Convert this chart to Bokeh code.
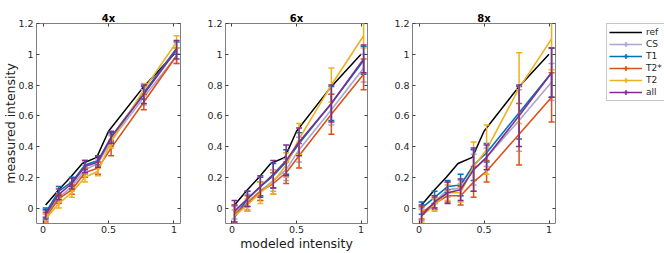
from bokeh.plotting import figure
from bokeh.models import (Range1d, LinearAxis, FixedTicker, PrintfTickFormatter,
                          Legend, LegendItem, ColumnDataSource)
from bokeh.layouts import row
from bokeh.embed import file_html
from bokeh.resources import INLINE

# ---------------- data ----------------
panel_titles = ["4x", "6x", "8x"]
series_names = ["CS", "T1", "T2*", "T2", "all"]
series_colors = ["#ABA5D4", "#0072BD", "#D95319", "#EDB120", "#7E2F8E"]

x_vals = [0.02, 0.12, 0.22, 0.32, 0.42, 0.52, 0.77, 1.02]
ref_x = [0.02, 0.12, 0.21, 0.30, 0.41, 0.50, 0.76, 1.00]
ref_y = [0.02, 0.12, 0.20, 0.29, 0.33, 0.50, 0.78, 1.00]

# 4x
cs_4x = [-0.05, 0.07, 0.14, 0.25, 0.29, 0.44, 0.72, 0.99]
cs_4x_err = [0.03, 0.03, 0.03, 0.03, 0.03, 0.04, 0.05, 0.05]
t1_4x = [-0.03, 0.11, 0.17, 0.28, 0.31, 0.46, 0.75, 1.04]
t1_4x_err = [0.03, 0.03, 0.03, 0.03, 0.03, 0.03, 0.04, 0.04]
t2s_4x = [-0.06, 0.06, 0.12, 0.23, 0.26, 0.39, 0.69, 0.99]
t2s_4x_err = [0.03, 0.03, 0.03, 0.03, 0.04, 0.05, 0.05, 0.05]
t2_4x = [-0.07, 0.03, 0.10, 0.20, 0.24, 0.43, 0.77, 1.08]
t2_4x_err = [0.03, 0.03, 0.03, 0.03, 0.03, 0.04, 0.04, 0.04]
all_4x = [-0.04, 0.09, 0.16, 0.27, 0.30, 0.46, 0.74, 1.03]
all_4x_err = [0.03, 0.035, 0.035, 0.04, 0.035, 0.04, 0.06, 0.06]

# 6x
cs_6x = [-0.03, 0.04, 0.11, 0.18, 0.25, 0.38, 0.64, 0.91]
cs_6x_err = [0.04, 0.05, 0.06, 0.07, 0.07, 0.08, 0.10, 0.09]
t1_6x = [-0.06, 0.06, 0.14, 0.21, 0.30, 0.42, 0.68, 0.96]
t1_6x_err = [0.08, 0.05, 0.06, 0.08, 0.08, 0.07, 0.11, 0.09]
t2s_6x = [-0.04, 0.03, 0.11, 0.16, 0.23, 0.34, 0.61, 0.87]
t2s_6x_err = [0.06, 0.05, 0.06, 0.07, 0.07, 0.08, 0.13, 0.10]
t2_6x = [-0.05, 0.02, 0.10, 0.17, 0.28, 0.45, 0.80, 1.12]
t2_6x_err = [0.04, 0.04, 0.07, 0.08, 0.08, 0.10, 0.11, 0.08]
all_6x = [-0.02, 0.06, 0.14, 0.22, 0.31, 0.43, 0.68, 0.97]
all_6x_err = [0.07, 0.05, 0.07, 0.09, 0.10, 0.09, 0.12, 0.09]

# 8x
cs_8x = [-0.04, 0.04, 0.12, 0.13, 0.25, 0.33, 0.57, 0.82]
cs_8x_err = [0.04, 0.04, 0.05, 0.05, 0.10, 0.06, 0.20, 0.12]
t1_8x = [0.00, 0.07, 0.14, 0.15, 0.28, 0.36, 0.62, 0.88]
t1_8x_err = [0.04, 0.04, 0.04, 0.07, 0.10, 0.06, 0.17, 0.16]
t2s_8x = [-0.03, 0.03, 0.08, 0.08, 0.17, 0.24, 0.48, 0.72]
t2s_8x_err = [0.04, 0.04, 0.04, 0.06, 0.10, 0.07, 0.20, 0.16]
t2_8x = [-0.05, 0.02, 0.10, 0.10, 0.27, 0.38, 0.78, 1.10]
t2_8x_err = [0.04, 0.04, 0.05, 0.06, 0.16, 0.16, 0.23, 0.20]
all_8x = [-0.05, 0.04, 0.10, 0.12, 0.25, 0.33, 0.60, 0.88]
all_8x_err = [0.07, 0.04, 0.07, 0.07, 0.14, 0.08, 0.20, 0.16]

x_ticks = [0, 0.5, 1]
y_ticks = [0, 0.2, 0.4, 0.6, 0.8, 1, 1.2]

panel_data = [
    [(cs_4x, cs_4x_err), (t1_4x, t1_4x_err), (t2s_4x, t2s_4x_err), (t2_4x, t2_4x_err), (all_4x, all_4x_err)],
    [(cs_6x, cs_6x_err), (t1_6x, t1_6x_err), (t2s_6x, t2s_6x_err), (t2_6x, t2_6x_err), (all_6x, all_6x_err)],
    [(cs_8x, cs_8x_err), (t1_8x, t1_8x_err), (t2s_8x, t2s_8x_err), (t2_8x, t2_8x_err), (all_8x, all_8x_err)],
]

# ---------------- style ----------------
FONT = "DejaVu Sans"
AXC = "#808080"
TXT = "#262626"
H = 253
TOP, BOTTOM = 13, 28


def style_axis(ax, ticks, labels=True):
    ax.ticker = FixedTicker(ticks=ticks)
    ax.formatter = PrintfTickFormatter(format="%g")
    ax.axis_line_color = AXC
    ax.axis_line_width = 1
    ax.major_tick_line_color = "#404040"
    ax.major_tick_line_width = 1
    ax.major_tick_in = 3
    ax.major_tick_out = 0
    ax.minor_tick_line_color = None
    ax.major_label_text_font = FONT
    ax.major_label_text_color = TXT
    ax.major_label_text_font_size = "9.5px"
    ax.major_label_standoff = 3
    ax.axis_label_text_font = FONT
    ax.axis_label_text_font_size = "12.5px"
    ax.axis_label_text_font_style = "normal"
    ax.axis_label_text_color = "#1a1a1a"
    ax.axis_label_standoff = 0
    if not labels:
        # tick marks only: labels are not drawn and take no room
        ax.major_label_text_color = None
        ax.major_label_text_font_size = "0px"
        ax.major_label_standoff = 0


def make_panel(idx, width, left, right):
    p = figure(width=width, height=H, x_range=Range1d(-0.05, 1.05), y_range=Range1d(-0.1, 1.2),
               output_backend="svg", toolbar_location=None,
               min_border_left=left, min_border_right=right,
               min_border_top=TOP, min_border_bottom=BOTTOM)
    p.grid.visible = False
    p.outline_line_color = None
    p.background_fill_color = "white"
    p.border_fill_color = "white"

    bottom_ax = p.below[0]
    left_ax = p.left[0]
    style_axis(bottom_ax, x_ticks)
    bottom_ax.major_label_standoff = 2
    style_axis(left_ax, y_ticks)
    top_ax = LinearAxis()
    style_axis(top_ax, x_ticks, labels=False)
    # panel title, carried by the top axis
    top_ax.axis_label = panel_titles[idx]
    top_ax.axis_label_text_font_size = "10px"
    top_ax.axis_label_text_font_style = "bold"
    top_ax.axis_label_text_color = "#000000"
    top_ax.axis_label_standoff = 0
    right_ax = LinearAxis()
    style_axis(right_ax, y_ticks, labels=False)
    p.add_layout(top_ax, "above")
    p.add_layout(right_ax, "right")

    p.line(ref_x, ref_y, line_color="black", line_width=1.5)

    for (vals, errs), color in zip(panel_data[idx], series_colors):
        src = ColumnDataSource(dict(
            x=x_vals, y=vals,
            lo=[v - e for v, e in zip(vals, errs)],
            hi=[v + e for v, e in zip(vals, errs)],
        ))
        p.segment(x0="x", y0="lo", x1="x", y1="hi", source=src, line_color=color, line_width=1.5)
        p.scatter(x="x", y="lo", source=src, marker="dash", size=6, line_color=color, line_width=1.5)
        p.scatter(x="x", y="hi", source=src, marker="dash", size=6, line_color=color, line_width=1.5)
        p.line(x="x", y="y", source=src, line_color=color, line_width=1.6)
    return p, bottom_ax, left_ax


p1, _, p1_left = make_panel(0, 190, 36, 10)
p1_left.axis_label = "measured intensity"
p1_left.axis_label_standoff = -3
p2, p2_bottom, _ = make_panel(1, 187, 35, 10)
p2_bottom.axis_label = "modeled intensity"
p3, _, _ = make_panel(2, 188, 35, 10)

# legend panel: proxy renderers (hidden) carry the legend glyphs
p4 = figure(width=99, height=H, x_range=Range1d(-0.05, 1.05), y_range=Range1d(-0.1, 1.2),
            output_backend="svg", toolbar_location=None,
            x_axis_location=None, y_axis_location=None,
            min_border_left=41, min_border_right=0, min_border_top=23, min_border_bottom=0)
p4.grid.visible = False
p4.outline_line_color = None

ref_proxy = p4.line(ref_x, ref_y, line_color="black", line_width=1.5, visible=False)
items = [LegendItem(label="ref", renderers=[ref_proxy])]
for name, color, (vals, _e) in zip(series_names, series_colors, panel_data[2]):
    lr = p4.line(x_vals, vals, line_color=color, line_width=1.6, visible=False)
    mr = p4.scatter(x_vals, vals, marker="cross", size=8, line_color=color, line_width=1.5, visible=False)
    items.append(LegendItem(label=name, renderers=[lr, mr]))

legend = Legend(items=items, location="top_left", margin=0, padding=2, spacing=0,
                glyph_width=33, glyph_height=12, label_height=12, label_standoff=4,
                label_text_font=FONT, label_text_font_size="9px", label_text_color=TXT,
                border_line_color="#8c8c8c", border_line_width=1,
                background_fill_color="white", background_fill_alpha=1,
                inactive_fill_alpha=0)
p4.add_layout(legend)

layout = row(p1, p2, p3, p4)
open("out.html", "w").write(file_html(layout, INLINE))
